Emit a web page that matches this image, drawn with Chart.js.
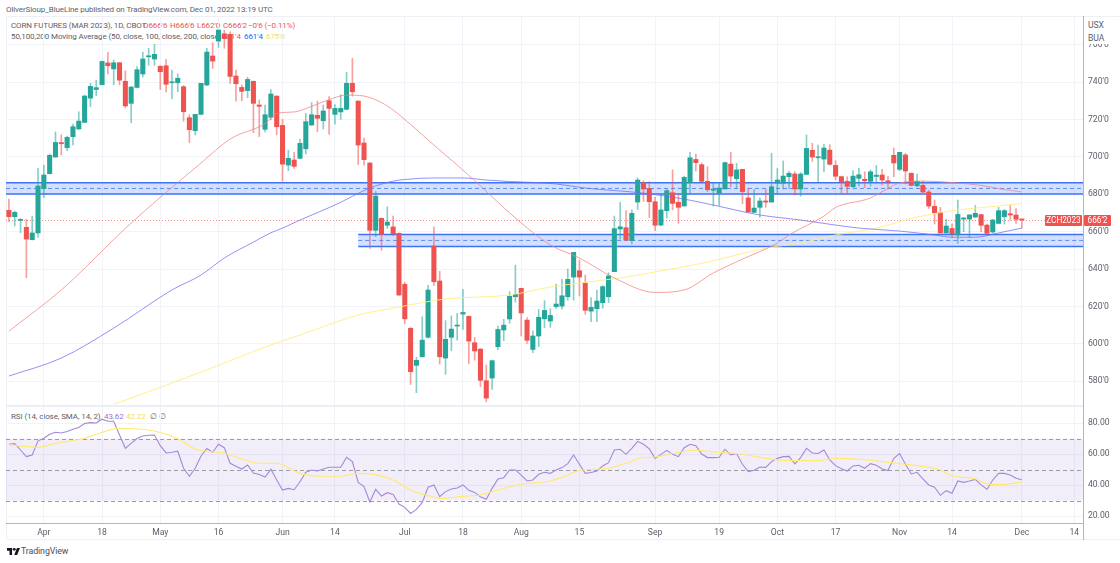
<!DOCTYPE html>
<html>
<head>
<meta charset="utf-8">
<title>Corn futures</title>
<script src="https://cdn.jsdelivr.net/npm/chart.js@4/dist/chart.umd.min.js"></script>
<style>
html, body { margin:0; padding:0; background:#fff; width:1120px; height:563px; overflow:hidden; }
body { font-family:Roboto, sans-serif; color:#5d606b; position:relative; }
canvas { position:absolute; left:0; z-index:2; }
.txt { position:absolute; white-space:pre; font-size:8px; letter-spacing:-.1px; line-height:11px; }
.txt span { position:absolute; top:0; }
.r { color:#ef5350; } .b { color:#2962ff; } .y { color:#f4e04d; } .p { color:#9575cd; }
.line { position:absolute; }
.tag { position:absolute; background:#ef5350; color:#fff; font-size:8.2px; line-height:11px; height:11px; text-align:center; z-index:4; border-radius:1px; }
</style>
</head>
<body>
<div class="txt" style="left:6px;top:4px;">OliverSloup_BlueLine published on TradingView.com, Dec 01, 2022 13:19 UTC</div>
<div class="line" style="left:6px;top:16px;width:1114px;height:524px;border:1px solid #eef0f5;border-right:0;box-sizing:border-box;"></div>
<div class="txt" style="left:11px;top:20px;">CORN FUTURES (MAR 2023), 1D, CBOT<span class="r" style="left:132px">O666'6</span><span class="r" style="left:159px">H666'6</span><span class="r" style="left:186px">L662'0</span><span class="r" style="left:212px">C666'2</span><span class="r" style="left:237px">−0'6 (−0.11%)</span></div>
<div class="txt" style="left:11px;top:31px;">50,100,200 Moving Average (50, close, 100, close, 200, close)<span class="r" style="left:211px">681'4</span><span class="b" style="left:233px">661'4</span><span class="y" style="left:255px">675'0</span></div>
<div class="txt" style="left:11px;top:411px;">RSI (14, close, SMA, 14, 2)<span class="p" style="left:93px">43.62</span><span class="y" style="left:115px">42.22</span><span style="left:139px">∅</span><span style="left:148px">∅</span></div>
<div class="line" style="left:6px;top:405px;width:1077px;height:2px;background:#eceef5;"></div>
<div class="line" style="left:1083px;top:16px;width:1px;height:524px;background:#b2b5be;z-index:3;"></div>
<div class="txt" style="left:1088px;top:19px;width:30px;height:25px;background:#fff;z-index:3;line-height:12.5px;font-size:8.6px;">USX
BUA</div>
<div class="tag" style="left:1045px;top:215px;width:37px;">ZCH2023</div>
<div class="tag" style="left:1084px;top:215px;width:27px;">666'2</div>
<svg style="position:absolute;left:7px;top:547px;" width="13" height="9" viewBox="0 0 36 20"><path fill="#131722" d="M14 20H7V8H0V0h14zM28 20h-8l7.5-20H36z"/><circle cx="20" cy="4" r="4" fill="#131722"/></svg>
<div class="txt" style="left:21px;top:546px;font-size:8.8px;color:#4a4d57;">TradingView</div>
<canvas id="mainChart" width="1120" height="405" style="top:0"></canvas>
<canvas id="rsiChart" width="1120" height="136" style="top:405px"></canvas>
<script>
const slotCount = 185;
const slots = Array.from({ length: slotCount }, (_, i) => i);

// daily candles (cents per bushel)
const opens = [
671.4,668,666,662.3,655.7,659.3,683,691,699.9,707.6,
704.9,710.8,714.9,718.4,731.4,736,738.6,750.2,747,750.3,
740.4,728.6,737.1,744.3,753.5,752.3,748.4,748.7,739.6,739.6,
737.5,720.9,714,722.7,738.4,753.9,761.9,765.8,765.5,743.2,
737.1,735.4,740.4,727.7,714.7,721.1,732.5,716.8,695.6,698.3,
699.2,704.3,717,722.2,719.3,730,722.7,724,725.4,739.3,
729.8,707.4,696.7,660.7,667.1,663.4,662.5,659.1,631.8,608.3,
588.5,593.1,603.5,652.3,633.6,592.4,603.5,609.5,615.9,614.7,
600.6,597.2,580.3,581.7,598.5,607.4,613.3,625.2,629.7,612.7,
597,604.2,613.4,612.2,619.9,620.2,625.2,635.7,639.1,632.5,
617.5,618.8,622,625.2,638.6,661.4,662.1,655.2,675.8,686.2,
683.1,676,663.5,671.2,680.8,675.7,673.7,686.2,698.6,695.8,
686.9,682.1,680.5,682.8,696.1,688.3,693.3,678,670.3,673,
676.4,675.8,685.8,685.8,689.4,690.8,682.8,690.6,703.5,699.5,
698.8,703.6,695.4,689.4,686.9,684,688.5,688,686.9,689.5,
690.3,687.2,700.8,693.3,701,691.2,684.5,684.7,681.2,673.5,
670.3,659.3,661.7,658.2,666.7,666.7,667.8,669.1,663.5,659.8,
664.4,668,669.6,668.9,666.75];
const highs = [
677.4,671,667,666.7,668.3,693.8,695.6,701.5,713.3,711.8,
711.1,717.5,724.1,733,739.3,741,751.2,755.9,751.8,750.5,
746,737.7,748.2,756,758,760.1,748.9,752.1,746.4,744.3,
738.2,722.5,722.7,739.3,758,761,767.8,767.8,766.9,746.4,
738.4,742.5,740.5,730.4,727.7,736,732.5,720,703.6,702.4,
709.3,723.2,729,729.8,727.7,732.2,728,733.2,745.2,752.7,
730,710,696.9,681.5,667.3,673.3,668.3,659.3,632.9,608.8,
592.8,614.5,631.3,662.6,638.8,612.4,614.9,616.3,629.1,614.9,
603.5,597.4,588.7,591.3,609.5,613.1,627.9,642.1,629.8,614,
607,618.4,623.1,618.8,632,634.6,640,648.9,644.8,636.8,
624.7,628.8,631.1,638,668.3,675.7,671.2,671.6,688.7,687.2,
686.7,678.3,679.6,682.6,693,679.9,689.7,702.4,701.5,696.7,
694.7,685.8,685.8,697.2,702.4,696.5,693.3,683.1,682.6,678.1,
682.6,701.9,693.8,697.8,692.4,692,691.6,711.7,707.2,706.3,
706.8,706.5,697.9,689.7,689.4,692.6,693.8,692,693,695.4,
693.3,689.4,704.7,702.4,701.9,691.4,690.8,687.2,682.2,676.9,
673,666.6,664.1,676.9,667.6,669.2,674,669.4,664.1,666.6,
673,671.9,674,672.3,666.75];
const lows = [
665.3,663,659.4,635.4,655.5,657.1,678.1,690.8,699.7,701,
703.3,706.3,714.7,718.3,726.8,732.7,738.4,744.3,738.6,738.4,
726.3,718.3,736.8,742.7,749,748.9,736,734.7,730.9,734.8,
719,707.6,711.7,722.5,738,747.3,758.5,758,739.3,729.8,
730,731.6,712.9,710.8,713.3,719.7,711.8,687,692.6,693.8,
699,701.5,716.8,713.4,714.9,712,717.5,720,725.2,732.5,
695.8,695.6,651,657.3,650,661.7,657.8,625.9,610.8,578.3,
573.9,592.8,603.1,631.1,589.2,583.7,596.3,602,607.7,589.4,
591.3,577.1,569,575.6,596.9,601.7,611,622.4,604.2,600.2,
595.3,598.5,608.6,608.8,619,618.6,623.4,623.4,625.6,615.8,
611.8,611.8,619,622,638.6,656,655.2,653.4,671.9,676.2,
667.5,660.5,663,667.3,671.6,664.4,673.7,680.8,692.4,686.4,
681.4,673.7,674,682.8,684,683.1,675,670.1,670.1,667.6,
673,675.8,680.1,682.8,683.1,679.6,679,690.6,697.6,686.7,
692,695.6,687.6,680.5,680.1,683.6,684.4,683.6,684.4,686.7,
685.1,682.8,689.4,692.6,685.5,684.4,684.1,680.8,672.4,664.1,
659.1,659.1,656.9,653.7,660,656.9,667.6,660,658,659.4,
664.1,664,666.2,664.4,662];
const closes = [
668,670.3,666.4,656,659.3,684.4,690.3,700.8,707.7,707,
710.4,716.1,719.1,732.5,737.7,737,751,748.7,750.3,741,
727.2,737.3,746.6,752.3,753.9,754.8,745.5,738.8,739.8,742,
724.1,714.5,722.7,739.3,756,751.2,767.8,763.2,743,739.1,
735,741.4,728.6,727,722.5,733.6,716.1,696.1,699.2,694.9,
707.2,718.8,722.5,720.6,724.5,725.9,725.9,725.9,739.3,734.8,
706.3,698.5,660.7,679,658.5,665.1,658.9,626.1,613.4,585.1,
591.2,602,628.8,633.2,593.1,602.4,607.9,609.9,616.8,601.5,
596.2,580.5,571,591,607.7,610,625.4,626.5,616.5,601.9,
604.2,614.2,617.9,615.2,621.3,625.7,634.5,648.9,635.7,617.9,
619.5,622.9,630.6,636.3,661.6,662.6,655.5,669.8,687.6,682.8,
676,663.4,671.6,681.9,675.1,673,689,699.5,696.9,686.9,
682.4,682.8,683.3,696.9,689.7,693,681.4,670.5,672.6,676.4,
675.8,684,687.6,689.7,691.2,682.8,690.8,704.5,699.9,699.9,
704.7,696,689.6,686.5,684.2,689.7,690.4,687.2,692,690.2,
687.6,686.5,696.7,702.4,692.4,684.7,686.9,681.2,673.7,670.1,
659.3,663,658.9,669.2,667.3,668.9,669.8,663.4,659.1,666.2,
671.2,671.2,668.9,666.6,666.25];

// moving averages, read at a few bars each
const ma50Bars = [0,9,21,33,38,44,46,49,51,55,58,61,64,66,69,73,77,80,87,93,98,104,111,116,121,126,132,134,140,142,148,150,153,157,163,167,170,174];
const ma50Vals = [606.8,628.8,664.6,696.7,709.5,717.8,723.2,724,725.8,730.6,733,732.5,729,725,717.3,706.3,695.6,687.3,667.3,652.9,645.9,635.2,627.5,628.8,637.9,645.3,653.9,658.2,668.3,672.9,678,681.4,686,687,686,684.7,683,681.2];
const ma100Bars = [0,9,18,28,33,37,42,45,47,50,56,62,66,68,73,78,82,86,90,94,99,109,116,121,129,136,142,146,153,159,162,166,170,174];
const ma100Vals = [582.8,592.4,608.4,628.8,636.8,645.9,654.4,659.4,661.9,666.2,674.2,683.3,687,687.9,688.7,688.7,687.6,686.8,686.3,685.5,683.3,680.6,677.4,674.2,668.9,666.2,663.5,661.9,660.3,658.2,657,657,659.3,661.9];
const ma200Bars = [18,21,33,45,50,60,67,75,86,93,98,106,111,120,130,136,142,149,156,163,170,174];
const ma200Vals = [567.8,571,584.9,599.4,604.7,615.4,619.7,624,626.1,630.4,632.5,635.7,638.4,643.7,651.2,653.9,658.2,661.9,667.8,671.6,673.7,675.1];

const rsiVals = [
66.4,66.8,62.7,58.4,59.5,68.6,70.3,72.9,74.2,73.7,
74.6,76.1,77.2,79.8,80.4,80.2,82.6,81.3,81.3,72.4,
63.8,67,70.1,71.8,72.2,72.4,65.5,60.8,61.2,61.9,
50.9,45.7,50.9,58.8,63.6,61.2,66.4,64.2,54.1,52.2,
50.4,53,47.8,46.8,45.2,50.2,43.3,36.8,37.9,37,
42.2,48.3,49.8,49.1,50.4,51.5,51.5,51.5,58,55.2,
41.8,39,29.1,37.3,32.9,35.1,34,27.8,25.6,21.7,
24.3,28.8,38.6,40.1,32.5,35.8,37.5,38.1,40.1,36.6,
35.3,32.5,30.8,37.9,44,44.8,49.8,49.8,46.5,42.7,
43.3,47,48.3,47.6,49.8,51.3,53.9,59.5,53.5,47.6,
48.1,49.1,52.4,54.5,62.7,63.2,59.9,63.8,68.3,66.4,
63.4,57.3,59.9,62.5,59.9,58.4,64.2,66.4,65.5,60.1,
57.8,57.8,58,63.2,59.5,60.4,53.5,48.7,49.6,51.7,
51.5,55.2,57.3,58.4,58.6,53.7,57.8,63.8,60.8,60.4,
62.7,56.3,52.6,50.6,49.1,52.4,52.8,50.9,53.9,52.8,
50.4,49.4,57.3,60.4,53.5,47.2,48.3,44,40.1,38.6,
33.4,36.4,34.7,42.7,41.8,42.7,43.7,40.1,37.3,43.3,
47.6,47.6,46.5,44.4,43.5];
const rsiMaBars = [0,5,8,13,15,19,25,29,32,37,40,43,46,50,54,57,60,63,66,69,72,74,78,81,84,88,93,95,98,103,106,109,111,114,118,121,125,132,135,139,142,146,150,154,158,160,162,166,168,170,174];
const rsiMaVals = [66,64.5,67,70.3,72.9,76.8,75,70,63.4,60.6,56.9,54.1,54.1,47.6,45.7,45.7,47.6,46.8,43.3,36.8,33.2,31.4,32.7,33.6,36.8,40.5,42.7,45,49.4,50.9,54.1,57.8,58.2,60.4,62.5,61.4,60.4,56.3,55.8,55.8,57.3,56.7,55.2,53.5,51.5,49.8,46.1,44,40.7,40.3,42];

// axis labels and ranges
const timeBars = [6,16,26,36,47,56,68,78,88,98,111,122,132,142,153,162,174,183];
const timeLabels = ['Apr','18','May','16','Jun','14','Jul','18','Aug','15','Sep','19','Oct','17','Nov','14','Dec','14'];
const priceTicks = [760,740,720,700,680,660,640,620,600,580];
const priceRange = [567.3, 775.3];
const rsiTicks = [80,60,40,20];
const rsiRange = [15.5, 90.5];

// support / resistance zones: [top, mid, bottom, first bar]
const zoneUpper = [686.1, 683.1, 680.1, null];
const zoneLower = [658.5, 655.3, 652, 60];
const lastPrice = 666.25;
const rsiLevels = [70, 50, 30];

const upColor = '#26a69a', downColor = '#ef5350';
const upWick = 'rgba(38,166,154,.55)', downWick = 'rgba(239,83,80,.55)';
const isUp = closes.map((c, i) => c >= opens[i]);
const gridColor = '#f1f3f9';
const tickFont = { family: 'Roboto', size: 8.6 };

function sparse(bars, vals) {
    const out = new Array(closes.length).fill(null);
    bars.forEach((b, i) => { out[b] = vals[i]; });
    return out;
}

function fixedTime(scale) { scale.ticks = timeBars.map(value => ({ value })); }

function pinY(ticks) {
    return s => { s.ticks = ticks.map(value => ({ value })); };
}

// the y scale would otherwise push the plot in by half a label height
function fitY(s) {
    s.width = 37;
    s.paddingTop = 0;
    s.paddingBottom = 0;
}

function maLine(bars, vals, color) {
    return { type: 'line', data: sparse(bars, vals), borderColor: color, borderWidth: 1, pointRadius: 0,
             spanGaps: true, cubicInterpolationMode: 'monotone', order: 0 };
}

const zonesPlugin = {
    id: 'zones',
    beforeDatasetsDraw(chart) {
        const { ctx, scales: { x, y }, chartArea: area } = chart;
        [zoneUpper, zoneLower].forEach(z => {
            const left = z[3] === null ? area.left : x.getPixelForValue(z[3]);
            const top = y.getPixelForValue(z[0]), mid = y.getPixelForValue(z[1]), bot = y.getPixelForValue(z[2]);
            ctx.save();
            ctx.fillStyle = 'rgba(41,98,255,.2)';
            ctx.fillRect(left, top, area.right - left, bot - top);
            ctx.strokeStyle = '#3f72f5';
            ctx.lineWidth = 1.5;
            ctx.beginPath();
            ctx.moveTo(left, top); ctx.lineTo(area.right, top);
            ctx.moveTo(left, bot); ctx.lineTo(area.right, bot);
            ctx.stroke();
            ctx.lineWidth = 1;
            ctx.strokeStyle = '#5f8bf7';
            ctx.setLineDash([4, 3]);
            ctx.beginPath();
            ctx.moveTo(left, mid); ctx.lineTo(area.right, mid);
            ctx.stroke();
            ctx.restore();
        });
        const py = Math.round(y.getPixelForValue(lastPrice)) + .5;
        ctx.save();
        ctx.strokeStyle = 'rgba(239,83,80,.65)';
        ctx.setLineDash([1, 2]);
        ctx.beginPath();
        ctx.moveTo(area.left, py); ctx.lineTo(area.right, py);
        ctx.stroke();
        ctx.restore();
    }
};

const bandPlugin = {
    id: 'band',
    beforeDatasetsDraw(chart) {
        const { ctx, scales: { y }, chartArea: area } = chart;
        const t = y.getPixelForValue(rsiLevels[0]), b = y.getPixelForValue(rsiLevels[2]);
        ctx.save();
        ctx.fillStyle = 'rgba(126,87,194,.1)';
        ctx.fillRect(area.left, t, area.width, b - t);
        ctx.strokeStyle = '#9a9da6';
        ctx.setLineDash([4, 3]);
        rsiLevels.forEach(l => {
            const py = Math.round(y.getPixelForValue(l)) + .5;
            ctx.beginPath();
            ctx.moveTo(area.left, py); ctx.lineTo(area.right, py);
            ctx.stroke();
        });
        ctx.restore();
    }
};

new Chart(document.getElementById('mainChart'), {
    type: 'bar',
    plugins: [zonesPlugin],
    data: {
        labels: slots,
        datasets: [
            { data: lows.map((l, i) => [l, highs[i]]), backgroundColor: isUp.map(u => u ? upWick : downWick),
              barThickness: 1, grouped: false, order: 3 },
            { data: opens.map((o, i) => [o, closes[i]]), backgroundColor: isUp.map(u => u ? upColor : downColor),
              barThickness: 4.4, minBarLength: 1, grouped: false, order: 2 },
            maLine(ma50Bars, ma50Vals, 'rgba(242,130,130,.75)'),
            maLine(ma100Bars, ma100Vals, 'rgba(110,110,245,.75)'),
            maLine(ma200Bars, ma200Vals, 'rgba(255,238,130,.9)')
        ]
    },
    options: {
        responsive: false,
        animation: false,
        layout: { autoPadding: false, padding: { left: 6, top: 16, right: 0, bottom: 0 } },
        plugins: { legend: { display: false }, tooltip: { enabled: false } },
        scales: {
            x: {
                type: 'category', offset: true,
                grid: { color: gridColor, offset: false, drawTicks: false },
                border: { display: false },
                ticks: { display: false, autoSkip: false, maxRotation: 0 },
                afterBuildTicks: fixedTime,
                afterFit: s => { s.height = 0; }
            },
            y: {
                position: 'right', min: priceRange[0], max: priceRange[1],
                grid: { color: gridColor, drawTicks: false },
                border: { display: false },
                ticks: { font: tickFont, color: '#5d606b', padding: 5, crossAlign: 'near',
                         callback: v => `${v}'0` },
                afterBuildTicks: pinY(priceTicks),
                afterFit: fitY
            }
        }
    }
});

new Chart(document.getElementById('rsiChart'), {
    type: 'line',
    plugins: [bandPlugin],
    data: {
        labels: slots,
        datasets: [
            { data: rsiVals, borderColor: '#a488d8', borderWidth: 1.1, pointRadius: 0, tension: 0, order: 1 },
            { data: sparse(rsiMaBars, rsiMaVals), borderColor: '#ffe96e', borderWidth: 1.1, pointRadius: 0,
              spanGaps: true, cubicInterpolationMode: 'monotone', order: 0 }
        ]
    },
    options: {
        responsive: false,
        animation: false,
        layout: { autoPadding: false, padding: { left: 6, top: 2, right: 0, bottom: 0 } },
        plugins: { legend: { display: false }, tooltip: { enabled: false } },
        scales: {
            x: {
                type: 'category', offset: true,
                grid: { color: gridColor, offset: false, drawTicks: false },
                border: { display: true, color: '#b2b5be', width: 1 },
                ticks: { font: tickFont, color: '#5d606b', autoSkip: false, maxRotation: 0, padding: 5,
                         callback: (v, i) => timeLabels[i] },
                afterBuildTicks: fixedTime,
                afterFit: s => { s.height = 18; }
            },
            y: {
                position: 'right', min: rsiRange[0], max: rsiRange[1],
                grid: { color: gridColor, drawTicks: false },
                border: { display: false },
                ticks: { font: tickFont, color: '#5d606b', padding: 5, crossAlign: 'near',
                         callback: v => v.toFixed(2) },
                afterBuildTicks: pinY(rsiTicks),
                afterFit: fitY
            }
        }
    }
});
</script>
</body>
</html>
